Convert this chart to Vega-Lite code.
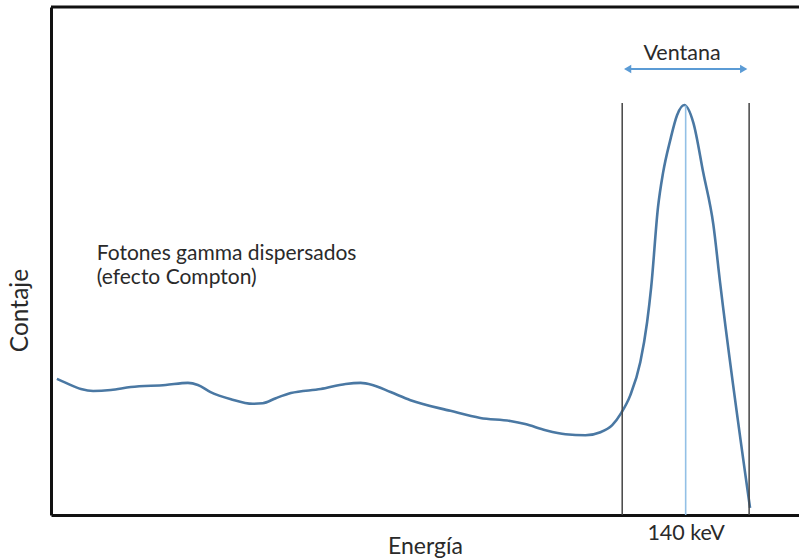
{
  "$schema": "https://vega.github.io/schema/vega-lite/v6.json",
  "width": 748,
  "height": 508,
  "autosize": {"type": "none"},
  "padding": {"left": 51, "top": 7, "right": 0, "bottom": 45},
  "background": "white",
  "config": {"view": {"stroke": null}, "font": "Lato"},
  "datasets": {
    "curve": [
      {"e": 1.3, "c": 26.8}, {"e": 3.3, "c": 26.0}, {"e": 6.6, "c": 24.8}, {"e": 9.3, "c": 24.4},
      {"e": 13.2, "c": 24.6}, {"e": 17.6, "c": 25.2}, {"e": 25.3, "c": 25.6}, {"e": 30.2, "c": 26.0},
      {"e": 32.4, "c": 25.6}, {"e": 35.2, "c": 24.2}, {"e": 39.7, "c": 22.8}, {"e": 44.5, "c": 21.9},
      {"e": 46.7, "c": 22.0}, {"e": 49.6, "c": 23.0}, {"e": 52.9, "c": 24.0}, {"e": 59.5, "c": 24.8},
      {"e": 65.0, "c": 25.8}, {"e": 68.3, "c": 26.0}, {"e": 70.9, "c": 25.6}, {"e": 74.9, "c": 24.2},
      {"e": 79.3, "c": 22.6}, {"e": 88.1, "c": 20.5}, {"e": 94.7, "c": 19.1}, {"e": 101.3, "c": 18.5},
      {"e": 104.6, "c": 17.9}, {"e": 109.1, "c": 16.7}, {"e": 113.5, "c": 15.9}, {"e": 117.9, "c": 15.7},
      {"e": 121.2, "c": 16.3}, {"e": 123.8, "c": 17.7}, {"e": 125.8, "c": 20.1}, {"e": 127.8, "c": 23.6},
      {"e": 130.0, "c": 30.1}, {"e": 131.5, "c": 38.0}, {"e": 132.4, "c": 44.9}, {"e": 133.9, "c": 60.6},
      {"e": 135.0, "c": 67.3}, {"e": 136.6, "c": 73.8}, {"e": 138.1, "c": 78.7}, {"e": 139.7, "c": 80.7},
      {"e": 141.7, "c": 77.2}, {"e": 143.9, "c": 67.3}, {"e": 146.1, "c": 57.2}, {"e": 147.6, "c": 45.7},
      {"e": 154.2, "c": 1.4}
    ]
  },
  "layer": [
    {
      "data": {"values": [{"e0": 0, "e1": 165, "c": 100}]},
      "mark": {"type": "rule", "color": "#111", "strokeWidth": 3},
      "encoding": {
        "x": {"field": "e0", "type": "quantitative", "scale": {"domain": [0, 165], "nice": false, "zero": false},
          "axis": {"values": [140], "labelExpr": "'140 keV'", "ticks": false, "grid": false, "domainColor": "#111", "domainWidth": 3,
            "labelFontSize": 21.5, "labelFont": "Lato", "labelColor": "#2a2a2a", "labelPadding": 7,
            "title": "Energía", "titleFontSize": 23, "titleFont": "Lato", "titleFontWeight": "normal", "titleColor": "#2a2a2a",
            "titleY": 38, "titleBaseline": "alphabetic"}},
        "x2": {"field": "e1"},
        "y": {"field": "c", "type": "quantitative", "scale": {"domain": [0, 100], "nice": false},
          "axis": {"labels": false, "ticks": false, "grid": false, "domainColor": "#111", "domainWidth": 3,
            "title": "Contaje", "titleFontSize": 24.5, "titleFont": "Lato", "titleFontWeight": "normal", "titleColor": "#2a2a2a",
            "titleX": -24, "titleY": 303, "titleBaseline": "alphabetic", "titleAngle": -90, "titleAlign": "center"}}
      }
    },
    {
      "data": {"name": "curve"},
      "mark": {"type": "line", "color": "#4a78a3", "strokeWidth": 2.6, "interpolate": "monotone"},
      "encoding": {
        "x": {"field": "e", "type": "quantitative"},
        "y": {"field": "c", "type": "quantitative"}
      }
    },
    {
      "data": {"values": [{"e": 126, "bot": 0, "top": 81.1}, {"e": 154, "bot": 0, "top": 81.1}]},
      "mark": {"type": "rule", "color": "#444", "strokeWidth": 1.5},
      "encoding": {
        "x": {"field": "e", "type": "quantitative"},
        "y": {"field": "bot", "type": "quantitative"},
        "y2": {"field": "top"}
      }
    },
    {
      "data": {"values": [{"e": 140, "bot": 0, "top": 80.6}]},
      "mark": {"type": "rule", "color": "#93c0e6", "strokeWidth": 1.6},
      "encoding": {
        "x": {"field": "e", "type": "quantitative"},
        "y": {"field": "bot", "type": "quantitative"},
        "y2": {"field": "top"}
      }
    },
    {
      "data": {"values": [{"a": 127, "b": 153, "c": 87.8}]},
      "mark": {"type": "rule", "color": "#5b9bd5", "strokeWidth": 2},
      "encoding": {
        "x": {"field": "a", "type": "quantitative"},
        "x2": {"field": "b"},
        "y": {"field": "c", "type": "quantitative"}
      }
    },
    {
      "data": {"values": [{"e": 127.2, "c": 87.8, "s": "triangle-left"}, {"e": 152.8, "c": 87.8, "s": "triangle-right"}]},
      "mark": {"type": "point", "filled": true, "color": "#5b9bd5", "size": 70, "opacity": 1},
      "encoding": {
        "x": {"field": "e", "type": "quantitative"},
        "y": {"field": "c", "type": "quantitative"},
        "shape": {"field": "s", "type": "nominal", "scale": null}
      }
    },
    {
      "data": {"values": [{"e": 139.2, "c": 89.6, "t": "Ventana"}]},
      "mark": {"type": "text", "fontSize": 21.5, "font": "Lato", "color": "#2a2a2a", "baseline": "alphabetic", "align": "center"},
      "encoding": {
        "x": {"field": "e", "type": "quantitative"},
        "y": {"field": "c", "type": "quantitative"},
        "text": {"field": "t"}
      }
    },
    {
      "data": {"values": [
        {"e": 10.1, "c": 50.2, "t": "Fotones gamma dispersados\n(efecto Compton)"}
      ]},
      "mark": {"type": "text", "fontSize": 21, "font": "Lato", "color": "#2a2a2a", "baseline": "alphabetic", "align": "left", "lineBreak": "\n", "lineHeight": 24},
      "encoding": {
        "x": {"field": "e", "type": "quantitative"},
        "y": {"field": "c", "type": "quantitative"},
        "text": {"field": "t"}
      }
    }
  ]
}
